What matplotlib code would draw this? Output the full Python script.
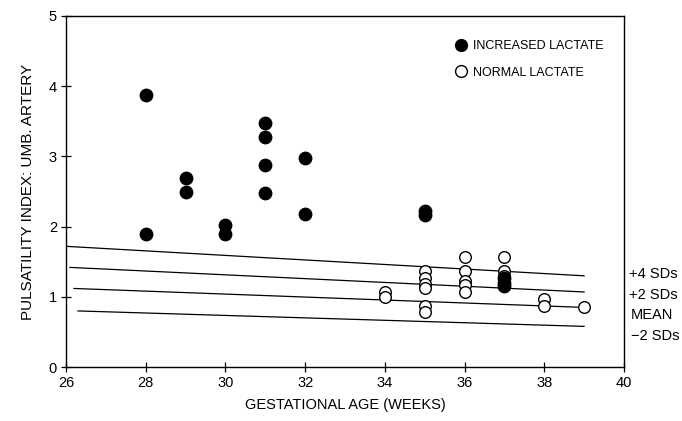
import matplotlib
matplotlib.use("Agg")
import matplotlib.pyplot as plt
from matplotlib.lines import Line2D

plt.rcParams['font.family'] = ['Liberation Sans', 'DejaVu Sans']

# Increased lactate (filled)
inc_x = [28, 28, 29, 29, 30, 30, 31, 31, 31, 31, 32, 32, 35, 35, 37, 37, 37]
inc_y = [3.88, 1.90, 2.70, 2.50, 2.03, 1.90, 3.48, 3.28, 2.88, 2.48, 2.98, 2.18, 2.22, 2.17, 1.27, 1.20, 1.15]

# Normal lactate (open)
norm_x = [34, 34, 35, 35, 35, 35, 35, 35, 36, 36, 36, 36, 36, 37, 37, 37, 38, 38, 39]
norm_y = [1.07, 1.00, 1.37, 1.27, 1.18, 1.12, 0.87, 0.78, 1.57, 1.37, 1.22, 1.17, 1.07, 1.57, 1.37, 1.30, 0.97, 0.87, 0.85]

# Reference lines: (x_start, y_start, x_end, y_end)
ref_names = ["+4 SDs", "+2 SDs", "MEAN", "\u22122 SDs"]
ref_x0 = [26.0, 26.1, 26.2, 26.3]
ref_y0 = [1.72, 1.42, 1.12, 0.80]
ref_x1 = [39.0, 39.0, 39.0, 39.0]
ref_y1 = [1.30, 1.07, 0.85, 0.58]
ref_label_y = [1.32, 1.03, 0.74, 0.44]
ref_label_dx = [0.12, 0.12, 0.17, 0.17]

xticks = [26, 28, 30, 32, 34, 36, 38, 40]
yticks = [0, 1, 2, 3, 4, 5]

fig = plt.figure(figsize=(6.82, 4.21), dpi=100)
ax = fig.add_axes([0.0968, 0.128, 0.818, 0.834])

for x0, y0, x1, y1 in zip(ref_x0, ref_y0, ref_x1, ref_y1):
    ax.plot([x0, x1], [y0, y1], color='black', lw=0.9, zorder=1)

ax.scatter(inc_x, inc_y, s=80, color='black', zorder=3)
ax.scatter(norm_x, norm_y, s=70, facecolors='white', edgecolors='black', linewidths=1.0, zorder=2)

for name, ly, dx in zip(ref_names, ref_label_y, ref_label_dx):
    ax.text(40 + dx, ly, name, fontsize=10.5, ha='left', va='center', clip_on=False)

ax.set_xlim(26, 40)
ax.set_ylim(0, 5)
ax.set_xticks(xticks)
ax.set_yticks(yticks)
ax.tick_params(direction='inout', length=7, width=0.9, labelsize=10.5, pad=3)
for sp in ax.spines.values():
    sp.set_linewidth(1.0)

ax.set_xlabel("GESTATIONAL AGE (WEEKS)", fontsize=10.5, labelpad=6)
ax.set_ylabel("PULSATILITY INDEX: UMB. ARTERY", fontsize=11, labelpad=10)

handles = [
    Line2D([], [], marker='o', ls='none', color='black', markersize=8.5),
    Line2D([], [], marker='o', ls='none', markerfacecolor='white', markeredgecolor='black', markersize=8.5),
]
ax.legend(handles, ["INCREASED LACTATE", "NORMAL LACTATE"], loc='upper left',
          bbox_to_anchor=(0.685, 0.945), frameon=False, fontsize=9,
          handletextpad=0.35, handlelength=1.2, labelspacing=1.15, borderaxespad=0)

fig.savefig("out.png", dpi=100)
